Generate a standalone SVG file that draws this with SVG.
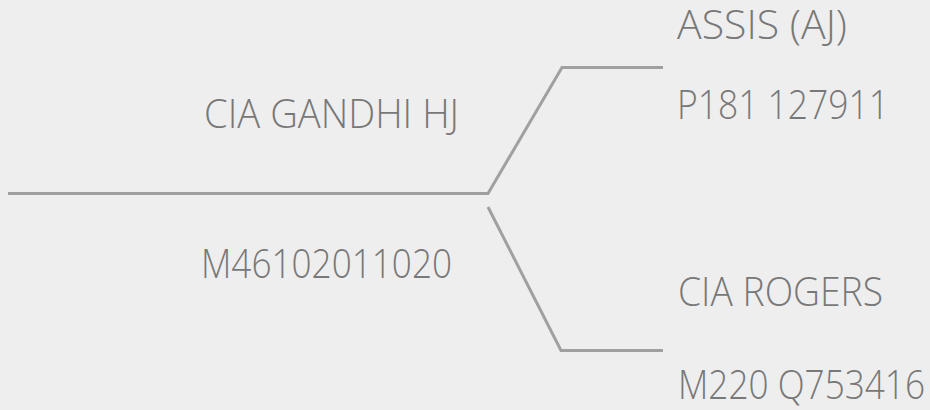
<svg xmlns="http://www.w3.org/2000/svg" width="930" height="410" viewBox="0 0 930 410">
<style>
.bg{fill:#eeeeee}
.ln{fill:none;stroke:#a0a0a0;stroke-width:3;stroke-linejoin:miter}
.t{font-family:"Open Sans","Noto Sans",sans-serif;font-weight:300;font-size:40px;fill:#787878}
</style>
<rect class="bg" x="0" y="0" width="930" height="410"/>
<g id="connectors">
<polyline class="ln" points="8,193.5 488,193.5 562,67.5 663,67.5"/>
<polyline class="ln" points="488,207 561,350.5 663,350.5"/>
</g>
<g id="root">
<text class="t" x="204" y="128" textLength="255" lengthAdjust="spacingAndGlyphs">CIA GANDHI HJ</text>
<text class="t" x="201" y="278" textLength="251" lengthAdjust="spacingAndGlyphs">M46102011020</text>
</g>
<g id="node-assis">
<text class="t" x="677" y="39" textLength="170" lengthAdjust="spacingAndGlyphs">ASSIS (AJ)</text>
<text class="t" x="677" y="119" textLength="212" lengthAdjust="spacingAndGlyphs">P181 127911</text>
</g>
<g id="node-rogers">
<text class="t" x="678" y="306" textLength="205" lengthAdjust="spacingAndGlyphs">CIA ROGERS</text>
<text class="t" x="678" y="399" textLength="247" lengthAdjust="spacingAndGlyphs">M220 Q753416</text>
</g>
</svg>
